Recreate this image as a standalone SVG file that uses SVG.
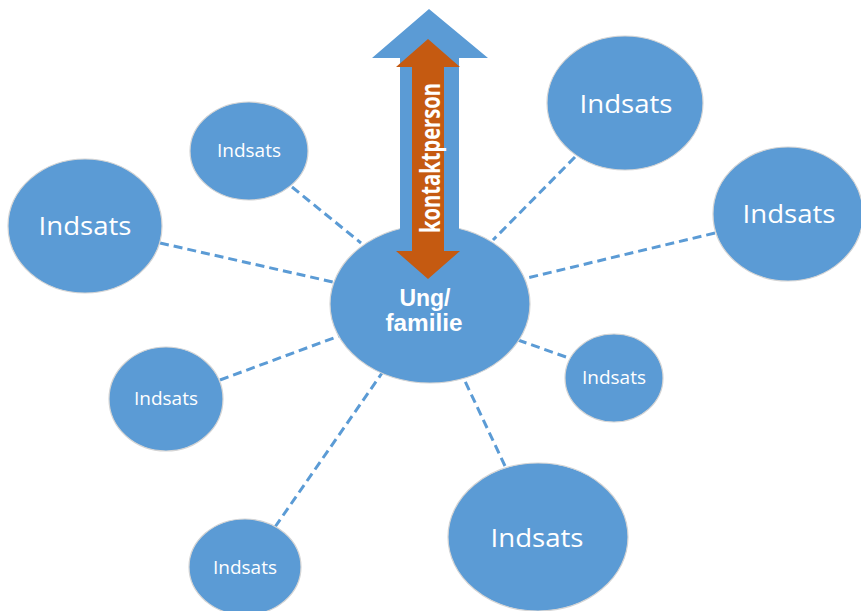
<svg xmlns="http://www.w3.org/2000/svg" width="861" height="611" viewBox="0 0 861 611">
<style>
.bg{fill:#ffffff}
.conn line{stroke:#5b9bd5;stroke-width:3;stroke-dasharray:9 5;fill:none}
.node ellipse{fill:#5b9bd5;stroke:#d4d4d4;stroke-width:1.2}
.lbl{font-family:"Open Sans","Noto Sans",sans-serif;fill:#ffffff;text-anchor:middle}
.s{font-size:18px}
.l{font-size:26px}
.center{font-family:"Liberation Sans",Arial,sans-serif;font-weight:bold;font-size:23px;fill:#ffffff;text-anchor:middle}
.kp{font-family:"Open Sans","Noto Sans",sans-serif;font-weight:bold;font-size:26px;fill:#ffffff;text-anchor:middle}
</style>
<rect class="bg" x="0" y="0" width="861" height="611"/>
<g id="connectors" class="conn">
<line x1="292" y1="187" x2="361" y2="243"/>
<line x1="160" y1="243" x2="333" y2="282"/>
<line x1="220" y1="380" x2="339" y2="336"/>
<line x1="275" y1="527" x2="382" y2="373"/>
<line x1="505" y1="466" x2="464" y2="379"/>
<line x1="566" y1="357" x2="518" y2="340"/>
<line x1="715" y1="233" x2="527" y2="278"/>
<line x1="575" y1="157" x2="493" y2="240"/>
</g>
<g id="n-topleft" class="node"><ellipse cx="249" cy="151" rx="59" ry="49"/><text class="lbl s" x="249" y="157" textLength="64" lengthAdjust="spacingAndGlyphs">Indsats</text></g>
<g id="n-leftbig" class="node"><ellipse cx="85" cy="226" rx="77" ry="67"/><text class="lbl l" x="85" y="235" textLength="93" lengthAdjust="spacingAndGlyphs">Indsats</text></g>
<g id="n-leftsmall" class="node"><ellipse cx="166" cy="399" rx="57" ry="52"/><text class="lbl s" x="166" y="405" textLength="64" lengthAdjust="spacingAndGlyphs">Indsats</text></g>
<g id="n-bottomsmall" class="node"><ellipse cx="245" cy="567" rx="56" ry="48"/><text class="lbl s" x="245" y="574" textLength="64" lengthAdjust="spacingAndGlyphs">Indsats</text></g>
<g id="n-bottombig" class="node"><ellipse cx="538" cy="537" rx="90" ry="74"/><text class="lbl l" x="537" y="547" textLength="93" lengthAdjust="spacingAndGlyphs">Indsats</text></g>
<g id="n-rightsmall" class="node"><ellipse cx="614" cy="378" rx="49" ry="44"/><text class="lbl s" x="614" y="384" textLength="64" lengthAdjust="spacingAndGlyphs">Indsats</text></g>
<g id="n-rightmid" class="node"><ellipse cx="788" cy="214" rx="75" ry="67"/><text class="lbl l" x="789" y="223" textLength="93" lengthAdjust="spacingAndGlyphs">Indsats</text></g>
<g id="n-topright" class="node"><ellipse cx="625" cy="103" rx="78" ry="67"/><text class="lbl l" x="626" y="113" textLength="93" lengthAdjust="spacingAndGlyphs">Indsats</text></g>
<g id="n-center" class="node"><ellipse cx="430" cy="304" rx="100" ry="79"/></g>
<g id="arrow-up">
<path d="M429,9 L488,58 L459,58 L459,262 L400,262 L400,58 L372,58 Z" fill="#5b9bd5"/>
</g>
<g id="arrow-contact">
<path d="M428,39 L460,67 L444,67 L444,251 L460,251 L428,279 L396,251 L412,251 L412,67 L396,67 Z" fill="#c55a11"/>
<text class="kp" transform="translate(440,158) rotate(-90)" textLength="150" lengthAdjust="spacingAndGlyphs">kontaktperson</text>
</g>
<g id="center-label">
<text class="center" x="425" y="306" textLength="51" lengthAdjust="spacingAndGlyphs">Ung/</text>
<text class="center" x="424" y="331" textLength="77" lengthAdjust="spacingAndGlyphs">familie</text>
</g>
</svg>
